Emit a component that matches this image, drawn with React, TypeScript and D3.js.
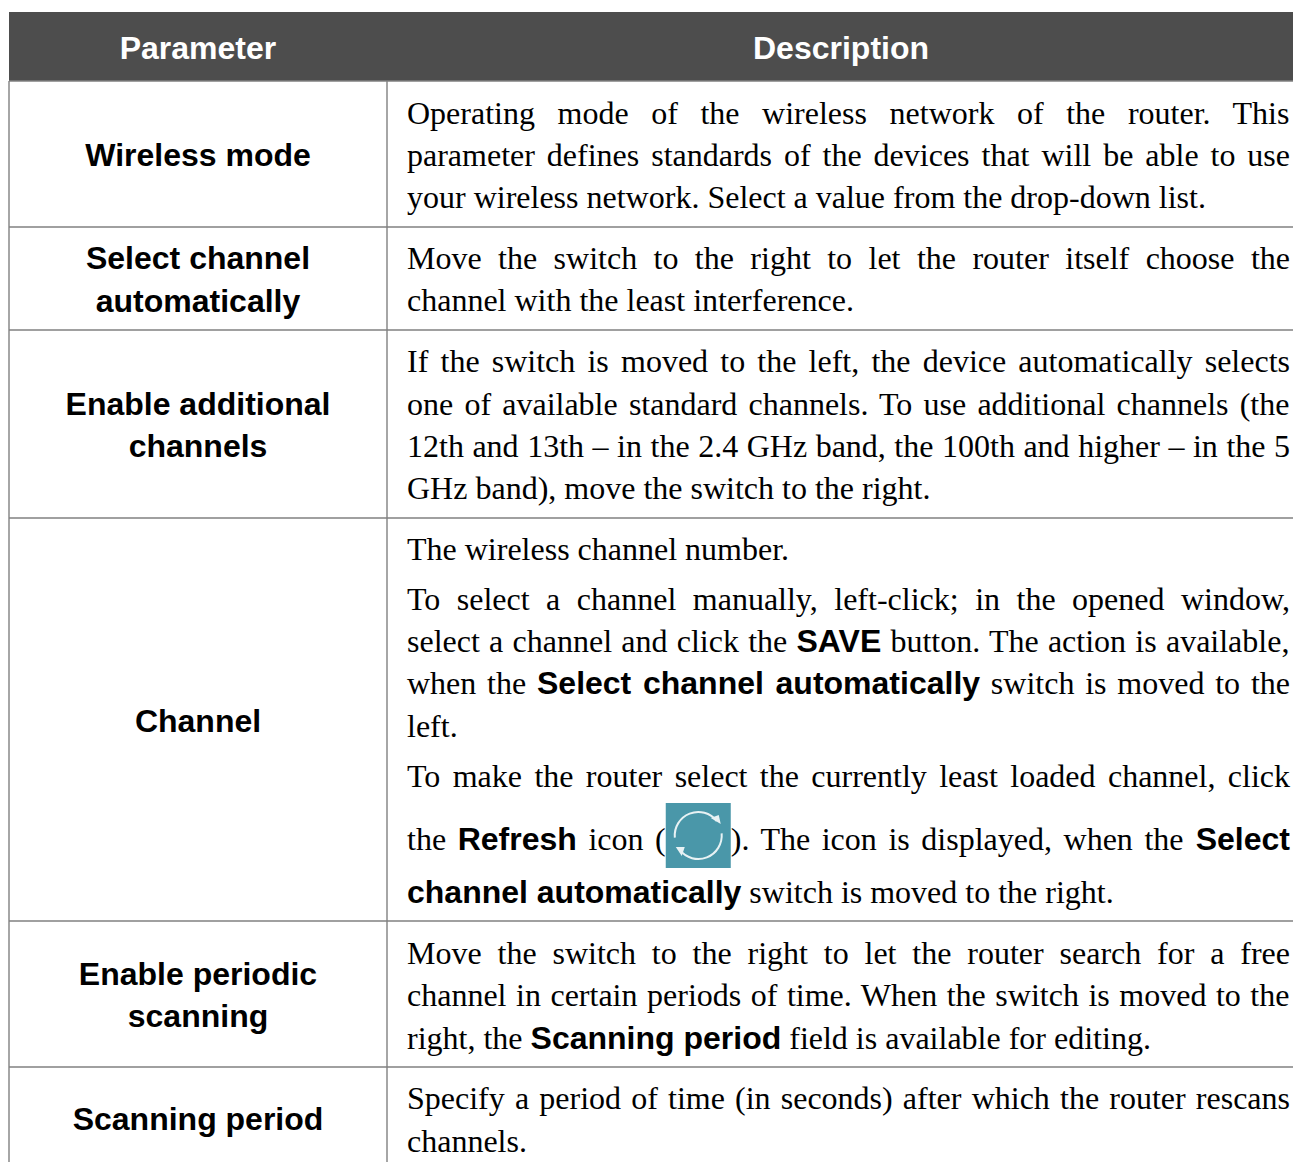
import React, { useEffect, useRef } from "react";
import * as d3 from "d3";

const headers = ["Parameter", "Description"];

// parameter names, one entry per row, wrapped lines in each
const parameterLines = [
  ["Wireless mode"],
  ["Select channel", "automatically"],
  ["Enable additional", "channels"],
  ["Channel"],
  ["Enable periodic", "scanning"],
  ["Scanning period"],
];

// ** toggles bold, @@ is the refresh icon, trailing ~ means the line is not justified
const descriptionLines = [
  [
    "Operating mode of the wireless network of the router. This",
    "parameter defines standards of the devices that will be able to use",
    "your wireless network. Select a value from the drop-down list.~",
  ],
  [
    "Move the switch to the right to let the router itself choose the",
    "channel with the least interference.~",
  ],
  [
    "If the switch is moved to the left, the device automatically selects",
    "one of available standard channels. To use additional channels (the",
    "12th and 13th – in the 2.4 GHz band, the 100th and higher – in the 5",
    "GHz band), move the switch to the right.~",
  ],
  [
    "The wireless channel number.~",
    "To select a channel manually, left-click; in the opened window,",
    "select a channel and click the **SAVE** button. The action is available,",
    "when the **Select channel automatically** switch is moved to the",
    "left.~",
    "To make the router select the currently least loaded channel, click",
    "the **Refresh** icon (@@). The icon is displayed, when the **Select**",
    "**channel automatically** switch is moved to the right.~",
  ],
  [
    "Move the switch to the right to let the router search for a free",
    "channel in certain periods of time. When the switch is moved to the",
    "right, the **Scanning period** field is available for editing.~",
  ],
  [
    "Specify a period of time (in seconds) after which the router rescans",
    "channels.~",
  ],
];

// layout, kept apart from the text
const rowLines = [81, 227, 330, 518, 921, 1067];
const paramBaselines = [[166], [269, 312], [415, 457], [732], [985, 1027], [1130]];
const descBaselines = [
  [124, 166, 208],
  [269, 311],
  [372, 415, 457, 499],
  [560, 610, 652, 694, 737, 787, 850, 903],
  [964, 1006, 1049],
  [1109, 1152],
];

const WIDTH = 1293;
const HEIGHT = 1162;
const SERIF = "'Liberation Serif'";
const SANS = "'Liberation Sans'";
const BODY_SIZE = 32;
const BOLD_SIZE = 32;
const ICON_SIZE = 65;
const COL_LEFT = 9;
const COL_SPLIT = 387;
const TEXT_LEFT = 407;
const TEXT_RIGHT = 1290;

type Run = { text: string; bold: boolean; icon: boolean };

// split a marked-up line into plain, bold and icon runs
function parseLine(line: string): Run[] {
  const runs: Run[] = [];
  line
    .replace(/~$/, "")
    .split("**")
    .forEach((part, i) => {
      part.split("@@").forEach((text, j) => {
        if (j > 0) runs.push({ text: "", bold: false, icon: true });
        if (text) runs.push({ text, bold: i % 2 === 1, icon: false });
      });
    });
  return runs;
}

const App: React.FC = () => {
  const svgRef = useRef<SVGSVGElement>(null);

  useEffect(() => {
    if (!svgRef.current) return;
    const svg = d3.select(svgRef.current);
    svg.selectAll("*").remove();

    const ctx = document.createElement("canvas").getContext("2d")!;
    const measure = (run: Run) => {
      if (run.icon) return ICON_SIZE;
      ctx.font = run.bold
        ? `bold ${BOLD_SIZE}px ${SANS}`
        : `${BODY_SIZE}px ${SERIF}`;
      return ctx.measureText(run.text).width;
    };

    // Header band
    svg
      .append("rect")
      .attr("x", COL_LEFT)
      .attr("y", 12)
      .attr("width", WIDTH - COL_LEFT)
      .attr("height", rowLines[0] - 12)
      .attr("fill", "#4d4d4d");

    svg
      .selectAll(".header")
      .data(headers)
      .enter()
      .append("text")
      .attr("class", "header")
      .attr("x", (_, i) => (i === 0 ? 198 : 841))
      .attr("y", 59)
      .attr("text-anchor", "middle")
      .style("font", `bold ${BOLD_SIZE}px ${SANS}`)
      .style("fill", "#ffffff")
      .text((d) => d);

    // Grid lines
    svg
      .selectAll(".row-line")
      .data(rowLines)
      .enter()
      .append("line")
      .attr("x1", COL_LEFT)
      .attr("x2", WIDTH)
      .attr("y1", (d) => d)
      .attr("y2", (d) => d)
      .attr("stroke", "#808080")
      .attr("stroke-width", 1.4);

    [COL_LEFT, COL_SPLIT].forEach((x) => {
      svg
        .append("line")
        .attr("x1", x)
        .attr("x2", x)
        .attr("y1", rowLines[0])
        .attr("y2", HEIGHT)
        .attr("stroke", "#808080")
        .attr("stroke-width", 1.4);
    });

    // Parameter column
    parameterLines.forEach((lines, r) => {
      lines.forEach((line, l) => {
        svg
          .append("text")
          .attr("x", 198)
          .attr("y", paramBaselines[r][l])
          .attr("text-anchor", "middle")
          .style("font", `bold ${BOLD_SIZE}px ${SANS}`)
          .style("fill", "#000000")
          .text(line);
      });
    });

    // Description column, justified by hand
    descriptionLines.forEach((lines, r) => {
      lines.forEach((line, l) => {
        const runs = parseLine(line);
        const y = descBaselines[r][l];
        const natural = d3.sum(runs, measure);
        const gaps = d3.sum(runs, (d) => d.text.split(" ").length - 1);
        const spacing = line.endsWith("~")
          ? 0
          : (TEXT_RIGHT - TEXT_LEFT - natural) / gaps;

        const text = svg
          .append("text")
          .attr("y", y)
          .style("white-space", "pre")
          .style("word-spacing", `${spacing}px`)
          .style("fill", "#000000");

        let x = TEXT_LEFT;
        runs.forEach((run) => {
          if (run.icon) {
            drawRefreshIcon(svg, x, y - 47);
          } else {
            text
              .append("tspan")
              .attr("x", x)
              .style(
                "font",
                run.bold
                  ? `bold ${BOLD_SIZE}px ${SANS}`
                  : `${BODY_SIZE}px ${SERIF}`
              )
              .text(run.text);
          }
          x += measure(run) + (run.text.split(" ").length - 1) * spacing;
        });
      });
    });
  }, []);

  return (
    <svg
      ref={svgRef}
      width={WIDTH}
      height={HEIGHT}
      style={{ position: "absolute", left: 0, top: 0, background: "#ffffff" }}
    />
  );
};

// Teal square with two circular arrows
function drawRefreshIcon(
  svg: d3.Selection<SVGSVGElement, unknown, null, undefined>,
  x: number,
  y: number
) {
  const g = svg.append("g").attr("transform", `translate(${x}, ${y})`);
  g.append("rect")
    .attr("width", ICON_SIZE)
    .attr("height", ICON_SIZE)
    .attr("fill", "#4a97a9");

  const arc = d3.arc<{ a: number; b: number }>()
    .innerRadius(22.5)
    .outerRadius(24.5)
    .startAngle((d) => (d.a * Math.PI) / 180)
    .endAngle((d) => (d.b * Math.PI) / 180);

  g.selectAll(".sweep")
    .data([
      { a: -95, b: 52 },
      { a: 85, b: 232 },
    ])
    .enter()
    .append("path")
    .attr("class", "sweep")
    .attr("transform", `translate(${ICON_SIZE / 2}, ${ICON_SIZE / 2})`)
    .attr("d", arc)
    .attr("fill", "#e8f2f4");

  g.selectAll(".head")
    .data(["M55 21L45 15L53 12Z", "M10 44L19 44L16 53Z"])
    .enter()
    .append("path")
    .attr("class", "head")
    .attr("d", (d) => d)
    .attr("fill", "#e8f2f4");
}

export default App;
